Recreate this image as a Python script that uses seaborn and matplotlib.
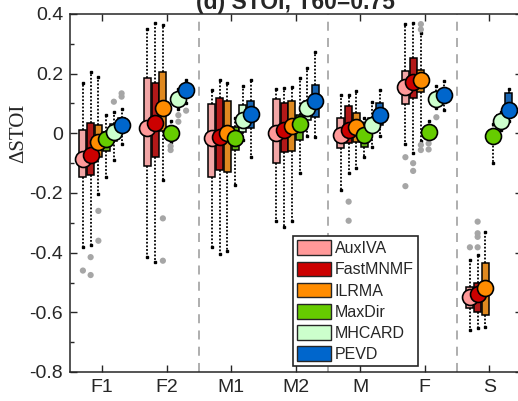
import matplotlib
matplotlib.use("Agg")
import matplotlib.pyplot as plt
import seaborn as sns
import numpy as np
import pandas as pd
from matplotlib.patches import Patch
from matplotlib.ticker import MultipleLocator, FuncFormatter

# groups on the x axis and methods (hue)
groups = ['F1', 'F2', 'M1', 'M2', 'M', 'F', 'S']
methods = ['AuxIVA', 'FastMNMF', 'ILRMA', 'MaxDir', 'MHCARD', 'PEVD']
colors = ['#ff9999', '#cc0000', '#ff8c00', '#66cc00', '#ccffcc', '#0066cc']

# box statistics, one row per group, one column per method
whisker_lo = [[-0.380, -0.375, -0.203, -0.145, -0.090, -0.035],
              [-0.415, -0.430, -0.157, -0.030, 0.080, 0.100],
              [-0.382, -0.405, -0.393, -0.173, -0.022, -0.080],
              [-0.293, -0.313, -0.293, -0.133, -0.010, -0.011],
              [-0.190, -0.134, -0.117, -0.078, -0.045, -0.009],
              [-0.036, -0.065, -0.025, -0.015, 0.085, 0.078],
              [-0.660, -0.654, -0.648, -0.098, 0.010, 0.040]]
q1 = [[-0.145, -0.140, -0.080, -0.060, -0.025, 0.005],
      [-0.110, -0.078, 0.009, -0.015, 0.095, 0.125],
      [-0.145, -0.123, -0.128, -0.056, 0.005, 0.017],
      [-0.098, -0.062, -0.060, -0.022, 0.045, 0.056],
      [-0.050, -0.031, -0.028, -0.045, 0.005, 0.028],
      [0.098, 0.120, 0.140, -0.010, 0.100, 0.110],
      [-0.587, -0.598, -0.609, -0.030, 0.025, 0.060]]
median = [[-0.087, -0.073, -0.030, -0.020, 0.005, 0.028],
          [0.017, 0.033, 0.084, 0.002, 0.114, 0.145],
          [-0.017, -0.011, 0.002, -0.015, 0.045, 0.065],
          [0.002, 0.011, 0.025, 0.030, 0.084, 0.108],
          [-0.006, 0.011, 0.022, -0.006, 0.028, 0.061],
          [0.154, 0.173, 0.179, 0.005, 0.115, 0.128],
          [-0.550, -0.540, -0.518, -0.008, 0.041, 0.078]]
q3 = [[0.010, 0.035, 0.028, 0.005, 0.030, 0.050],
      [0.186, 0.170, 0.204, 0.020, 0.130, 0.160],
      [0.097, 0.117, 0.108, 0.020, 0.095, 0.110],
      [0.114, 0.103, 0.108, 0.060, 0.110, 0.162],
      [0.050, 0.093, 0.069, 0.020, 0.050, 0.100],
      [0.210, 0.251, 0.212, 0.020, 0.130, 0.145],
      [-0.514, -0.500, -0.434, 0.010, 0.060, 0.134]]
whisker_hi = [[0.170, 0.205, 0.190, 0.060, 0.070, 0.080],
              [0.350, 0.370, 0.363, 0.040, 0.150, 0.180],
              [0.145, 0.179, 0.168, 0.050, 0.158, 0.180],
              [0.147, 0.153, 0.156, 0.184, 0.218, 0.274],
              [0.128, 0.128, 0.143, 0.050, 0.106, 0.145],
              [0.366, 0.371, 0.335, 0.040, 0.158, 0.175],
              [-0.425, -0.408, -0.332, 0.030, 0.070, 0.150]]

# outliers (group, method, value)
out_group = ['F1', 'F1', 'F1', 'F1', 'F1', 'F1', 'F1', 'F1',
             'F2', 'F2', 'F2', 'F2', 'F2', 'F2', 'F2',
             'M', 'M',
             'F', 'F', 'F', 'F', 'F', 'F', 'F', 'F', 'F', 'F', 'F',
             'S', 'S', 'S', 'S', 'S']
out_method = ['AuxIVA', 'FastMNMF', 'FastMNMF', 'ILRMA', 'ILRMA', 'MHCARD', 'PEVD', 'PEVD',
              'ILRMA', 'ILRMA', 'MaxDir', 'MaxDir', 'MHCARD', 'MHCARD', 'PEVD',
              'FastMNMF', 'FastMNMF',
              'AuxIVA', 'AuxIVA', 'FastMNMF', 'FastMNMF', 'ILRMA', 'ILRMA', 'ILRMA', 'ILRMA',
              'MaxDir', 'MaxDir', 'MHCARD',
              'AuxIVA', 'FastMNMF', 'FastMNMF', 'FastMNMF', 'FastMNMF']
out_value = [-0.460, -0.415, -0.475, -0.260, -0.360, 0.106, 0.134, 0.123,
             -0.285, -0.427, -0.043, -0.056, 0.061, 0.039, 0.076,
             -0.229, -0.293,
             -0.080, -0.177, -0.100, -0.126, 0.366, 0.348, -0.039, -0.056,
             -0.034, -0.054, 0.054,
             -0.382, -0.296, -0.335, -0.347, -0.382]

rows = []
for gi, g in enumerate(groups):
    for mi, m in enumerate(methods):
        for arr in (whisker_lo, q1, median, q3, whisker_hi):
            rows.append({'group': g, 'method': m, 'value': arr[gi][mi]})
df = pd.DataFrame(rows)
df_med = pd.DataFrame([{'group': g, 'method': m, 'value': median[gi][mi]}
                       for gi, g in enumerate(groups) for mi, m in enumerate(methods)])

step = 0.12
df_out = pd.DataFrame({'group': out_group, 'method': out_method, 'value': out_value})
df_out['x'] = [groups.index(g) + (methods.index(m) - 2.5) * step
               for g, m in zip(out_group, out_method)]

sns.set_style('ticks')
plt.rcParams['font.family'] = ['Liberation Sans', 'DejaVu Sans']
plt.rcParams['axes.unicode_minus'] = False

fig = plt.figure(figsize=(5.18, 4.01), dpi=100)
ax = fig.add_axes([70 / 518, 29 / 401, 451.5 / 518, 358 / 401])

for xs in (1.5, 3.5, 5.5):
    ax.axvline(xs, color='#a8a8a8', linestyle=(0, (5, 4)), lw=1.3, zorder=0)

sns.boxplot(data=df, x='group', y='value', hue='method', order=groups, hue_order=methods,
            palette=colors, width=0.72, gap=0.1, whis=(0, 100), showfliers=False,
            linecolor='black', linewidth=1.1, legend=False, ax=ax,
            whiskerprops=dict(linestyle=(0, (1, 1)), linewidth=1.3, marker='s',
                              markersize=1.6, markevery=[1], color='black'),
            capprops=dict(linewidth=0), medianprops=dict(linewidth=0))

sns.scatterplot(data=df_out, x='x', y='value', color='#a6a6a6', s=20, edgecolor='none',
                legend=False, ax=ax, zorder=3)

sns.pointplot(data=df_med, x='group', y='value', hue='method', order=groups, hue_order=methods,
              palette=colors, dodge=0.6, linestyle='none', markers='o', markersize=11.5,
              markeredgecolor='black', markeredgewidth=1.2, errorbar=None, legend=False,
              ax=ax, zorder=5)

ax.set_xlim(-0.5, 6.5)
ax.set_ylim(-0.8, 0.4)
ax.yaxis.set_major_locator(MultipleLocator(0.2))
ax.yaxis.set_minor_locator(MultipleLocator(0.1))
ax.yaxis.set_major_formatter(FuncFormatter(lambda v, p: '0' if abs(v) < 1e-9 else f'{v:g}'))
ax.tick_params(axis='both', which='both', direction='in', top=True, right=True,
               width=1, colors='#262626', labelcolor='#262626')
ax.tick_params(axis='both', which='major', length=5, labelsize=14, pad=5)
ax.tick_params(axis='y', which='minor', length=3)
for sp in ax.spines.values():
    sp.set_visible(True)
    sp.set_linewidth(1.1)
    sp.set_color('#262626')

ax.set_xlabel('')
ax.set_ylabel('ΔSTOI', family=['Liberation Serif', 'DejaVu Serif'], fontsize=15, color='#262626')
ax.yaxis.set_label_coords(-0.093, 0.666)
ax.set_title('(d) STOI, T60=0.75', fontsize=16.5, fontweight='bold', pad=3.5, color='#262626')

handles = [Patch(facecolor=c, edgecolor='#262626', linewidth=1, label=m)
           for m, c in zip(methods, colors)]
leg = ax.legend(handles=handles, loc='lower left', bbox_to_anchor=(0.494, 0.017),
                fontsize=11.5, handlelength=2.1, handleheight=1.05, labelspacing=0.33,
                handletextpad=0.25, borderpad=0.25, borderaxespad=0, fancybox=False,
                framealpha=1, edgecolor='#262626')
leg.get_frame().set_linewidth(1.2)

fig.savefig('out.png', dpi=100)
